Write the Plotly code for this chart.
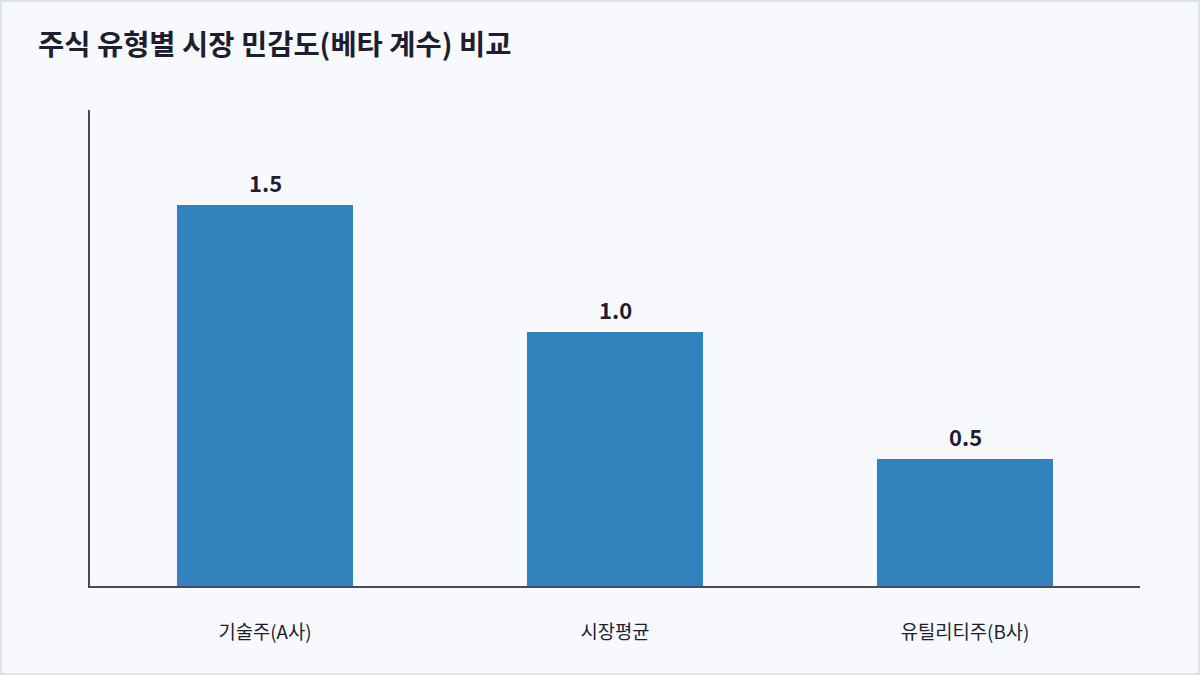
import plotly.graph_objects as go

categories = ["기술주(A사)", "시장평균", "유틸리티주(B사)"]
beta_values = [1.5, 1.0, 0.5]
value_labels = ["1.5", "1.0", "0.5"]

FONT = "Noto Sans CJK KR"
TEXT = "#1e1e30"
W, H = 1200, 675
ML, MR, MT, MB = 90, 60, 110, 89
PW, PH = W - ML - MR, H - MT - MB

fig = go.Figure()
fig.add_trace(go.Bar(
    x=categories, y=beta_values,
    marker=dict(color="#3182bd", line=dict(width=0)),
    width=0.503,
    hoverinfo="skip",
))

for c, v, t in zip(categories, beta_values, value_labels):
    fig.add_annotation(x=c, y=v, text=f"<b>{t}</b>", showarrow=False,
                       yanchor="bottom", yshift=5,
                       font=dict(family=FONT, size=22, color=TEXT))

# outer border
fig.add_shape(type="rect", xref="paper", yref="paper",
              x0=(1 - ML) / PW, x1=(W - 1 - ML) / PW,
              y0=-(MB - 1) / PH, y1=(PH + MT - 1) / PH,
              line=dict(color="#dde3ec", width=2), layer="below")

fig.update_layout(
    width=W, height=H,
    margin=dict(l=ML, r=MR, t=MT, b=MB, pad=0),
    paper_bgcolor="#f8f9fd", plot_bgcolor="#f8f9fd",
    showlegend=False,
    title=dict(text="<b>주식 유형별 시장 민감도(베타 계수) 비교</b>",
               x=38 / W, xanchor="left", y=1 - 45 / H, yanchor="middle",
               font=dict(family=FONT, size=28.5, color=TEXT)),
    font=dict(family=FONT, color=TEXT),
    xaxis=dict(showline=True, linecolor="#4a4868", linewidth=2,
               ticks="", showgrid=False, zeroline=False,
               ticklabelstandoff=28,
               tickfont=dict(family=FONT, size=18.8, color=TEXT)),
    yaxis=dict(range=[0, 1.874], showline=True, linecolor="#4a4868", linewidth=2,
               showticklabels=False, ticks="", showgrid=False, zeroline=False),
)

fig.write_html("out.html", config={"displayModeBar": False},
               post_script="document.body.style.margin='0';")
